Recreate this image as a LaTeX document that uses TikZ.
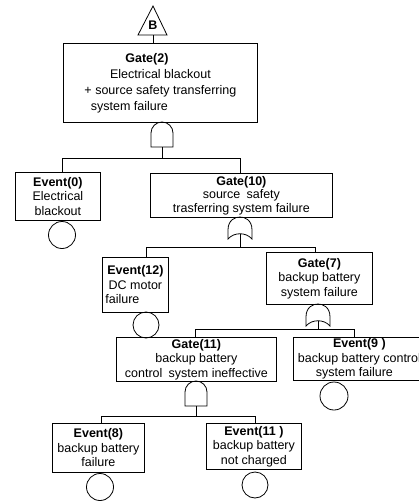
\documentclass[tikz,border=0pt]{standalone}
\usepackage{fontspec}
\setmainfont{Liberation Sans}
\newcommand{\ttl}[1]{{\fontsize{12.5}{14}\selectfont\bfseries #1}}
\tikzset{
  andgate/.pic={\draw (-11,-25) -- (-11,-11) arc[start angle=180,end angle=0,radius=11] -- (11,-25) -- cycle;
    \coordinate (-out) at (0,-25);},
  orgate/.pic={\draw (-12,-22) -- (-12,-13) .. controls (-12,-3) and (-5,0) .. (0,0)
      .. controls (5,0) and (12,-3) .. (12,-13) -- (12,-22)
      .. controls (6,-15) and (-6,-15) .. cycle;
    \coordinate (-out) at (0,-16.8);}
}
\begin{document}
\begin{tikzpicture}[x=1pt,y=1pt,line width=0.8pt,
  box/.style={draw,rectangle,inner sep=0pt,anchor=north west,align=center,
    font=\fontsize{12.5}{14.5}\selectfont},
  evc/.style={draw,circle,inner sep=0pt}]
\useasboundingbox (0,0) rectangle (419,-501);
% top transfer triangle
\draw (138,-35) -- (153,-6) -- (167,-35) -- cycle;
\node[font=\fontsize{12.5}{12}\selectfont\bfseries] (B) at (153,-25) {B};
\coordinate (tb) at (153,-35);
% boxes
\node[box,minimum width=194,minimum height=79,font=\fontsize{12.5}{16}\selectfont] (g2) at (63,-43)
  {\ttl{Gate(2)}\hspace*{27pt}\\Electrical blackout\\+ source safety transferring\\system failure\hspace*{62pt}};
\node[box,minimum width=85,minimum height=48] (e0) at (15,-172) {\ttl{Event(0)}\\Electrical\\blackout};
\node[box,minimum width=182,minimum height=44,font=\fontsize{12.5}{13.5}\selectfont] (g10) at (150,-173)
  {\ttl{Gate(10)}\\source\enspace safety\hspace*{14pt}\\trasferring system failure};
\node[box,minimum width=66,minimum height=55] (e12) at (102,-257)
  {\ttl{Event(12)}\\DC motor\\failure\hspace*{26pt}};
\node[box,minimum width=106,minimum height=52] (g7) at (266,-252)
  {\ttl{Gate(7)}\\backup battery\\system failure};
\node[box,minimum width=160,minimum height=44] (g11) at (116,-337)
  {\ttl{Gate(11)}\\backup battery\\control\enspace system ineffective};
\node[box,minimum width=132,minimum height=43] (e9) at (293,-337)
  {\ttl{Event(9 )}\\backup battery control\\system failure\hspace*{10pt}};
\node[box,minimum width=92,minimum height=49] (e8) at (52,-423)
  {\ttl{Event(8)}\\backup battery\\failure};
\node[box,minimum width=95,minimum height=46] (e11) at (206,-423)
  {\ttl{Event(11 )}\\backup battery\\not charged};
% event circles
\node[evc,minimum size=27] (e0c) at (62,-235) {};
\node[evc,minimum size=26] (e12c) at (146,-325) {};
\node[evc,minimum size=28] (e9c) at (334,-396) {};
\node[evc,minimum size=27] (e8c) at (100,-487) {};
\node[evc,minimum size=26] (e11c) at (255,-485) {};
% gates
\pic (g2and) at (162,-122) {andgate};
\pic (g10or) at (240,-217) {orgate};
\pic (g7or) at (318,-304) {orgate};
\pic (g11and) at (196,-381) {andgate};
% connectors
\draw (tb) -- (tb |- g2.north);
\draw (g2and-out) -- (g2and-out |- 0,-158);
\draw (e0.north -| e0c) |- (g10or-out |- 0,-158) -- (g10.north -| g10or-out);
\draw (g10or-out) -- (g10or-out |- 0,-247);
\draw (e12.north -| e12c) |- (315,-247) -- (g7.north -| 315,0);
\draw (g7or-out) -- (g7or-out |- 0,-329);
\draw (g11.north -| 195,0) |- (354,-329) -- (e9.north -| 354,0);
\draw (g11and-out) -- (g11and-out |- 0,-416);
\draw (e8.north -| 101,0) |- (255,-416) -- (e11.north -| 255,0);
\end{tikzpicture}
\end{document}
